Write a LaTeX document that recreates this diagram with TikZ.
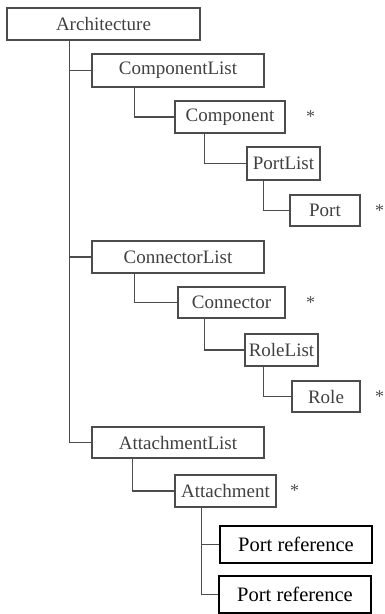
\documentclass[tikz,border=0pt]{standalone}
\usepackage{fontspec}
\setmainfont{Liberation Serif}
\newfontfamily\labelfont{Liberation Serif}
\usetikzlibrary{positioning}

\tikzset{
    box/.style={draw=black!70, line width=1.1pt, text=black!75, inner sep=0pt,
        font=\labelfont\fontsize{19}{21}\selectfont},
    refbox/.style={draw=black, line width=1.1pt, text=black, inner sep=0pt,
        font=\labelfont\fontsize{20.5}{23}\selectfont},
    starlabel/.style={inner sep=0pt, text=black!70, font=\labelfont\fontsize{18}{20}\selectfont}
}

\begin{document}
\begin{tikzpicture}[x=1pt, y=-1pt, line width=1.1pt, draw=black!70]
    \useasboundingbox (0,0) rectangle (384,614);

    \node[box, minimum width=193pt, minimum height=32pt] (arch)     at (103.5,24)  {Architecture};
    \node[box, minimum width=172pt, minimum height=33pt] (complist) at (178,70.5)  {ComponentList};
    \node[box, minimum width=110pt, minimum height=32pt] (comp)     at (230,117)   {Component};
    \node[box, minimum width=73pt,  minimum height=33pt] (portlist) at (283.5,163.5) {PortList};
    \node[box, minimum width=70pt,  minimum height=31pt] (port)     at (325,210.5) {Port};
    \node[box, minimum width=172pt, minimum height=32pt] (connlist) at (178,257)   {ConnectorList};
    \node[box, minimum width=107pt, minimum height=31pt] (conn)     at (231.5,302.5) {Connector};
    \node[box, minimum width=73pt,  minimum height=32pt] (rolelist) at (281.5,350) {RoleList};
    \node[box, minimum width=68pt,  minimum height=31pt] (role)     at (326,396.5) {Role};
    \node[box, minimum width=172pt, minimum height=31pt] (attlist)  at (178,442.5) {AttachmentList};
    \node[box, minimum width=101pt, minimum height=32pt] (att)      at (225.5,491) {Attachment};
    \node[refbox, minimum width=152pt, minimum height=37pt] (pref1) at (296,544.5) {Port reference};
    \node[refbox, minimum width=152pt, minimum height=37pt] (pref2) at (295,594.5) {Port reference};

    \foreach \Target/\Gap in {comp/20pt, port/14pt, conn/20pt, role/14pt, att/13pt}
        \node[starlabel] (\Target star) [right=\Gap of \Target] {*};

    % main trunk
    \draw ([xshift=63pt]arch.south west) coordinate (trunk) |- (attlist.west);
    \draw (trunk |- complist.west) -- (complist.west);
    \draw (trunk |- connlist.west) -- (connlist.west);

    \foreach \Source/\Target/\Dx in {complist/comp/43, connlist/conn/43, attlist/att/41,
            comp/portlist/30, portlist/port/17, conn/rolelist/27, rolelist/role/19}
        \draw ([xshift=\Dx pt]\Source.south west) |- (\Target.west);

    \draw ([xshift=27pt]att.south west) coordinate (attstem) |- (pref2.west);
    \draw (attstem |- pref1.west) -- (pref1.west);
\end{tikzpicture}
\end{document}
